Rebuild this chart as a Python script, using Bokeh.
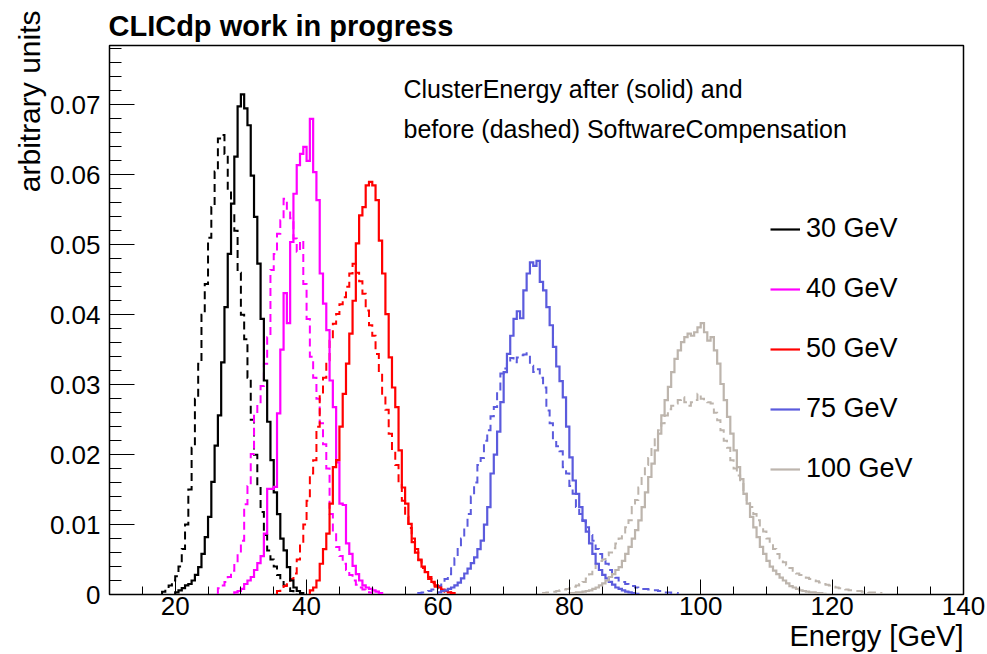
import numpy as np
from bokeh.plotting import figure
from bokeh.models import (Range1d, FixedTicker, CustomJSTickFormatter, Label,
                          Legend, LegendItem, Title)
from bokeh.embed import file_html
from bokeh.resources import INLINE

# Histogram binning in GeV; bin contents below are given in units of 1e-3
BIN_WIDTH = 0.5
UNIT = 1e-3
X_MIN, X_MAX = 10, 140
Y_MAX = 0.0785

labels = ["30 GeV", "40 GeV", "50 GeV", "75 GeV", "100 GeV"]
colors = ["#000000", "#ff00ff", "#ff0000", "#5b5bdd", "#bdb5ad"]

# ClusterEnergy after SoftwareCompensation (solid): first bin low edge + contents
after_30_start = 20.0
after_30 = [0.3, 0.6, 0.9, 1.3, 1.5, 2.0, 2.8, 3.9, 5.8, 8.2, 11.1, 16.1, 21.3, 25.6,
            33.2, 41.1, 48.7, 55.9, 62.6, 69.8, 71.5, 69.5, 67.1, 59.9, 54.0, 47.3,
            39.4, 30.6, 24.7, 19.2, 14.6, 11.5, 8.0, 6.3, 3.9, 2.0, 1.0, 0.5, 0.2]
after_40_start = 29.0
after_40 = [0.3, 0.5, 0.8, 1.5, 2.0, 2.5, 3.5, 4.5, 5.5, 8.7, 15.1, 15.1, 15.4, 25.9,
            35.0, 43.1, 38.8, 50.4, 57.3, 61.4, 63.0, 64.0, 62.0, 68.0, 60.4, 56.4,
            45.9, 41.6, 37.8, 30.6, 26.8, 18.9, 13.0, 12.8, 7.3, 5.8, 4.1, 2.9, 2.0,
            1.3, 1.0, 0.8, 0.6, 0.4, 0.2]
after_50_start = 40.5
after_50 = [0.6, 1.0, 2.0, 4.4, 6.5, 8.7, 13.0, 18.2, 19.2, 24.0, 28.7, 33.0, 37.3,
            42.0, 50.2, 54.2, 55.4, 58.5, 59.0, 58.5, 56.4, 50.6, 45.9, 40.1, 33.9,
            29.6, 26.8, 20.6, 15.3, 13.0, 10.1, 7.5, 6.0, 5.0, 4.0, 3.2, 2.5, 1.8,
            1.3, 1.0, 0.7, 0.5, 0.3, 0.2]
after_75_start = 60.0
after_75 = [0.3, 0.5, 0.6, 0.8, 1.0, 1.3, 1.7, 2.3, 3.0, 3.7, 4.5, 5.3, 6.5, 7.7,
            10.0, 12.5, 17.3, 20.0, 23.3, 27.5, 31.8, 34.4, 37.0, 39.4, 40.5, 39.5,
            43.5, 45.9, 47.5, 47.0, 47.7, 44.7, 43.5, 41.1, 38.5, 35.4, 32.6, 30.5,
            28.2, 24.0, 19.6, 16.3, 14.4, 12.5, 10.6, 9.0, 7.3, 5.8, 4.4, 3.5, 2.8,
            2.3, 1.8, 1.4, 1.0, 0.8, 0.6, 0.4, 0.3, 0.2, 0.1]
after_100_start = 80.0
after_100 = [0.2, 0.2, 0.3, 0.3, 0.4, 0.5, 0.6, 0.8, 1.0, 1.3, 1.6, 2.0, 2.5, 2.9,
             3.5, 3.9, 4.8, 5.8, 6.8, 8.0, 9.2, 10.6, 12.5, 14.6, 16.8, 18.7, 20.6,
             23.0, 25.6, 27.8, 29.7, 31.8, 33.7, 34.9, 36.1, 36.8, 37.3, 37.0, 37.5,
             38.2, 38.8, 37.5, 36.3, 36.8, 34.9, 33.0, 30.1, 27.8, 25.4, 23.0, 20.6,
             18.2, 16.5, 14.4, 13.0, 11.1, 9.6, 8.2, 6.8, 5.8, 4.8, 4.0, 3.4, 2.9,
             2.4, 2.0, 1.6, 1.2, 1.0, 0.8, 0.6, 0.5, 0.4, 0.3, 0.3, 0.2, 0.2, 0.1]

# ClusterEnergy before SoftwareCompensation (dashed)
before_30_start = 18.0
before_30 = [0.4, 0.8, 1.3, 2.0, 2.6, 4.0, 6.5, 10.0, 15.0, 21.0, 28.0, 33.0, 40.0,
             44.4, 51.0, 55.4, 60.5, 65.2, 65.7, 63.0, 58.0, 54.5, 52.0, 46.0, 40.0,
             36.5, 31.0, 25.0, 20.0, 15.6, 11.8, 8.5, 6.3, 5.0, 4.0, 2.8, 2.0, 1.3,
             0.9, 0.5, 0.3]
before_40_start = 26.5
before_40 = [0.9, 1.3, 1.8, 2.5, 3.4, 4.4, 6.0, 7.7, 12.9, 15.5, 20.1, 25.9, 27.5,
             29.8, 33.0, 36.8, 46.4, 48.7, 51.6, 53.5, 56.6, 55.0, 53.8, 50.9, 49.0,
             50.6, 44.4, 39.4, 34.0, 31.0, 28.0, 24.5, 21.5, 18.0, 11.5, 9.0, 6.8,
             5.5, 4.4, 3.5, 2.8, 2.0, 1.4, 1.0, 0.7, 0.5, 0.3]
before_50_start = 35.5
before_50 = [0.5, 0.8, 1.2, 1.6, 2.2, 3.0, 5.0, 7.3, 10.0, 13.4, 17.3, 19.2, 24.0,
             28.7, 31.0, 33.5, 36.3, 38.7, 40.1, 41.5, 42.5, 44.0, 45.9, 47.3, 46.0,
             44.8, 43.0, 40.6, 38.5, 37.0, 34.4, 31.6, 28.7, 26.4, 23.0, 20.5, 18.5,
             15.8, 13.4, 11.1, 9.5, 8.0, 6.5, 4.9, 3.8, 3.0, 2.2, 1.6, 1.1, 0.8, 0.6,
             0.4, 0.3, 0.2]
before_75_start = 57.0
before_75 = [0.2, 0.3, 0.4, 0.5, 0.7, 0.9, 1.2, 1.6, 2.2, 2.9, 4.0, 5.2, 6.8, 8.0,
             9.6, 11.5, 14.0, 16.0, 18.5, 19.5, 22.0, 23.5, 25.5, 26.8, 29.0, 31.6,
             32.3, 33.0, 33.8, 33.2, 33.9, 34.2, 34.3, 34.5, 32.7, 31.8, 32.2, 31.0,
             29.6, 26.3, 24.5, 22.0, 21.2, 20.5, 18.2, 17.3, 15.5, 14.4, 12.5, 11.5,
             10.5, 9.6, 8.5, 7.7, 6.5, 5.8, 4.8, 4.4, 3.5, 2.9, 2.4, 2.0, 1.8, 1.5,
             1.3, 1.2, 1.0, 0.9, 0.8, 0.8, 0.7, 0.6, 0.6, 0.5, 0.4, 0.3, 0.3, 0.2, 0.2]
before_100_start = 76.0
before_100 = [0.2, 0.3, 0.3, 0.4, 0.5, 0.6, 0.7, 0.8, 0.9, 1.1,
              1.3, 1.5, 1.8, 2.3, 2.9, 3.6, 4.4, 4.8, 5.0, 5.6,
              6.0, 6.6, 7.3, 8.0, 8.7, 9.6, 10.6, 12.5, 13.5, 15.3,
              17.0, 18.5, 19.5, 21.1, 22.5, 23.5, 24.5, 25.6, 26.5, 27.0,
              27.3, 27.8, 28.2, 27.5, 27.0, 27.5, 27.8, 28.7, 28.0, 27.6,
              27.5, 27.3, 26.0, 24.9, 23.5, 22.0, 21.0, 19.2, 18.0, 17.0,
              15.8, 14.4, 13.5, 12.5, 11.5, 10.6, 9.6, 9.0, 8.0, 7.3,
              6.5, 5.8, 5.2, 4.6, 4.2, 3.8, 3.4, 3.0, 2.8, 2.6,
              2.4, 2.2, 2.0, 1.9, 1.7, 1.5, 1.4, 1.3, 1.1, 1.0,
              0.9, 0.8, 0.7, 0.6, 0.6, 0.5, 0.5, 0.4, 0.4, 0.3,
              0.3, 0.3, 0.2]

after = [(after_30_start, after_30), (after_40_start, after_40),
         (after_50_start, after_50), (after_75_start, after_75),
         (after_100_start, after_100)]
before = [(before_30_start, before_30), (before_40_start, before_40),
          (before_50_start, before_50), (before_75_start, before_75),
          (before_100_start, before_100)]

FONT = "Liberation Sans"


def step_xy(start, contents):
    """Outline of a histogram drawn ROOT-style (HIST), closed to zero at both ends."""
    xs, ys = [start], [0.0]
    for i, c in enumerate(contents):
        lo = start + i * BIN_WIDTH
        xs += [lo, lo + BIN_WIDTH]
        ys += [c * UNIT, c * UNIT]
    xs.append(start + len(contents) * BIN_WIDTH)
    ys.append(0.0)
    return xs, ys


p = figure(width=987, height=654, output_backend="svg", toolbar_location=None,
           x_range=Range1d(X_MIN, X_MAX), y_range=Range1d(0, Y_MAX),
           title="CLICdp work in progress",
           min_border_left=109, min_border_right=24,
           min_border_top=45, min_border_bottom=60)
p.title.align = "left"
p.title.text_font = FONT
p.title.text_font_style = "bold"
p.title.text_font_size = "29px"
p.title.text_color = "black"
p.title.standoff = 7
p.title.offset = -1

p.xgrid.visible = False
p.ygrid.visible = False
p.background_fill_color = "white"
p.border_fill_color = "white"
p.outline_line_color = "black"
p.outline_line_width = 1.5

# axes: ticks inside the frame, ROOT-like
p.xaxis.ticker = FixedTicker(ticks=list(range(20, 141, 20)),
                             minor_ticks=list(range(10, 141, 5)))
p.yaxis.ticker = FixedTicker(ticks=[k * 0.01 for k in range(8)],
                             minor_ticks=[k * 0.002 for k in range(40)])
p.yaxis.formatter = CustomJSTickFormatter(
    code="return tick == 0 ? '0' : tick.toFixed(2);")
for ax in (p.xaxis[0], p.yaxis[0]):
    ax.axis_line_color = "black"
    ax.major_tick_line_color = "black"
    ax.minor_tick_line_color = "black"
    ax.major_tick_out = 0
    ax.minor_tick_out = 0
    ax.major_label_text_font = FONT
    ax.major_label_text_font_size = "26px"
    ax.major_label_text_color = "black"
p.xaxis.major_tick_in = 15
p.xaxis.minor_tick_in = 8
p.xaxis.major_label_standoff = 2
p.yaxis.major_tick_in = 25
p.yaxis.minor_tick_in = 12
p.yaxis.major_label_standoff = 9

# axis titles, aligned to the far end of each axis as in ROOT
p.add_layout(Title(text="Energy [GeV]", align="right", text_font=FONT,
                   text_font_size="29px", text_font_style="normal",
                   text_color="black", standoff=0, offset=0), "below")
p.add_layout(Title(text="arbitrary units", align="right", text_font=FONT,
                   text_font_size="30px", text_font_style="normal",
                   text_color="black", standoff=2, offset=-35), "left")

# dashed: before compensation; solid: after compensation
for (start, vals), col in zip(before, colors):
    xs, ys = step_xy(start, vals)
    p.line(xs, ys, line_color=col, line_width=2, line_dash="8 5", line_join="miter")

solid_renderers = []
for (start, vals), col in zip(after, colors):
    xs, ys = step_xy(start, vals)
    r = p.line(xs, ys, line_color=col, line_width=2.2, line_join="miter")
    solid_renderers.append(r)

legend = Legend(items=[LegendItem(label=lab, renderers=[r])
                       for lab, r in zip(labels, solid_renderers)],
                location=(661, 110), orientation="vertical",
                glyph_width=30, glyph_height=30, label_height=30, spacing=29,
                padding=0, margin=0, label_standoff=6,
                label_text_font=FONT, label_text_font_size="27px",
                label_text_color="black",
                background_fill_alpha=0, border_line_alpha=0)
p.add_layout(legend)

for text, dy in [("ClusterEnergy after (solid) and", -43),
                 ("before (dashed) SoftwareCompensation", -83)]:
    p.add_layout(Label(x=X_MIN, y=Y_MAX, x_offset=294, y_offset=dy, text=text,
                       text_font=FONT, text_font_size="25px", text_color="black",
                       text_baseline="middle"))

open("out.html", "w").write(file_html(p, INLINE))
